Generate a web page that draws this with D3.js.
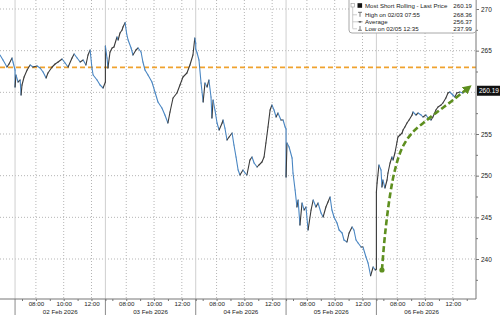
<!DOCTYPE html>
<html>
<head>
<meta charset="utf-8">
<script src="https://cdn.jsdelivr.net/npm/d3@7"></script>
<style>
  body { margin: 0; background: #fff; }
  svg text { font-family: "Liberation Sans", Arial, sans-serif; fill: #222; }
</style>
</head>
<body>
<div id="chart"></div>
<script>
// ---- data (session 06:30 - 13:00) ----
const dayLabels = ['02 Feb 2026', '03 Feb 2026', '04 Feb 2026', '05 Feb 2026', '06 Feb 2026'];
const hourTicks = ['08:00', '10:00', '12:00'];
const minorHourTicks = ['07:00', '09:00', '11:00', '13:00'];
const priceTicks = [240, 245, 250, 255, 265, 270];
const minorPriceTicks = [237.5, 242.5, 247.5, 252.5, 257.5, 262.5, 267.5];
const gridPrices = [240, 245, 250, 255, 260, 265, 270];
const refLevel = 263.0;
const lastPrice = 260.19;

const legendNames = ['Most Short Rolling - Last Price', 'High on 02/03 07:55', 'Average', 'Low on 02/05 12:35'];
const legendValues = ['260.19', '268.36', '256.37', '237.99'];

// [time, price] per session; day index -1 is the tail of 30 Jan
const jan30 = [["11:55",264.48],["12:08",263.88],["12:25",263.04],["12:34",263.40],["12:47",264.12],["12:51",263.64],["13:00",262.68]];
const feb02 = [["06:30",260.64],["06:34",262.08],["06:43",261.24],["06:52",261.48],["06:56",259.68],["07:00",260.88],["07:09",261.84],["07:22",262.68],["07:35",263.28],["07:48",263.04],["08:05",263.16],["08:18",262.92],["08:31",262.44],["08:44",261.72],["08:52",262.32],["09:10",263.04],["09:23",263.40],["09:36",263.64],["09:53",264.00],["10:06",263.52],["10:19",263.04],["10:36",264.12],["10:45",264.60],["10:58",264.12],["11:11",263.64],["11:24",263.88],["11:36",263.28],["11:45",264.48],["11:54",265.08],["12:02",262.92],["12:07",262.08],["12:24",261.48],["12:37",260.88],["12:50",260.52],["13:00",261.24]];
const feb03 = [["06:30",265.56],["06:37",264.12],["06:41",262.92],["06:50",264.84],["06:59",265.32],["07:07",265.44],["07:20",266.64],["07:25",266.28],["07:33",267.12],["07:42",267.48],["07:46",267.84],["07:55",268.36],["08:02",267.00],["08:08",266.28],["08:21",265.32],["08:29",264.48],["08:42",265.08],["08:51",265.32],["09:04",264.84],["09:12",263.64],["09:21",262.68],["09:34",262.08],["09:51",261.24],["10:04",260.04],["10:17",258.84],["10:34",258.12],["10:47",257.28],["11:00",256.32],["11:09",257.64],["11:22",259.32],["11:39",259.92],["11:52",260.88],["12:05",261.84],["12:22",262.32],["12:35",263.28],["12:48",264.48],["12:56",266.52],["13:00",265.90]];
const feb04 = [["06:30",265.20],["06:36",264.72],["06:44",263.88],["06:53",261.12],["07:02",258.84],["07:10",261.12],["07:19",260.64],["07:27",261.48],["07:36",259.44],["07:40",256.92],["07:45",259.08],["07:53",257.88],["08:02",256.32],["08:11",255.48],["08:24",256.32],["08:28",256.68],["08:36",255.72],["08:45",254.28],["08:54",254.64],["09:07",255.12],["09:15",253.68],["09:24",252.24],["09:33",250.68],["09:41",250.08],["09:54",250.68],["10:03",250.32],["10:11",250.08],["10:24",251.88],["10:33",252.24],["10:42",251.52],["10:55",251.04],["11:03",251.28],["11:16",251.64],["11:25",252.24],["11:33",253.92],["11:42",255.84],["11:51",257.88],["11:59",258.48],["12:08",257.88],["12:17",257.04],["12:25",257.52],["12:38",256.68],["12:47",256.68],["12:56",255.84],["13:00",255.60]];
const feb05 = [["06:30",249.84],["06:34",253.92],["06:43",253.44],["06:56",252.12],["07:00",250.32],["07:09",248.28],["07:17",246.24],["07:22",247.08],["07:30",244.08],["07:39",246.72],["07:48",245.88],["07:56",246.24],["08:05",243.48],["08:18",245.88],["08:27",247.08],["08:39",246.24],["08:48",246.72],["09:01",245.52],["09:10",245.04],["09:22",246.24],["09:31",246.84],["09:40",247.44],["09:48",245.88],["09:57",245.04],["10:10",244.32],["10:19",243.48],["10:32",243.12],["10:40",242.28],["10:53",242.04],["11:02",243.12],["11:15",243.84],["11:23",243.48],["11:32",242.28],["11:41",241.92],["11:54",241.44],["12:02",241.44],["12:15",240.24],["12:24",239.52],["12:35",237.99],["12:46",239.04],["12:55",238.68],["13:00",238.80]];
const feb06 = [["06:30",248.04],["06:33",249.12],["06:41",251.28],["06:50",250.68],["06:54",248.64],["06:58",249.48],["07:07",248.52],["07:16",249.48],["07:20",250.32],["07:29",251.52],["07:37",252.24],["07:42",251.88],["07:50",252.72],["07:59",254.04],["08:03",254.64],["08:12",254.88],["08:21",255.12],["08:25",255.48],["08:33",255.84],["08:42",256.32],["08:51",256.68],["09:04",257.28],["09:08",257.64],["09:21",257.28],["09:30",257.52],["09:43",257.28],["09:51",257.04],["10:04",257.28],["10:13",256.92],["10:26",256.68],["10:34",257.04],["10:47",257.88],["10:56",258.24],["11:09",258.48],["11:17",258.72],["11:30",259.32],["11:39",259.92],["11:47",260.04],["12:00",259.68],["12:09",259.44],["12:17",259.92],["12:30",260.04],["12:43",259.92],["12:52",260.28],["12:55",260.19]];
const sessions = [jan30, feb02, feb03, feb04, feb05, feb06];
const firstDayIndex = -1;

// green "recovery" annotation drawn on 06 Feb
const trendArrow = [["06:54",238.68],["07:07",242.88],["07:29",247.68],["07:50",250.68],["08:21",253.32],["09:04",255.12],["10:08",256.68],["11:04",257.88],["12:01",259.08],["13:06",260.52]];
const trendDay = 4;

class PriceChart {

  constructor(_config) {
    this.config = {
      parentElement: _config.parentElement,
      containerWidth: 500,
      containerHeight: 315,
      plotRight: 476,
      plotBottom: 299,
      sessionMinutes: 390,
      openMinute: 390
    }
    this.initVis();
  }

  // minutes on the compressed trading-time axis
  toT(day, hhmm) {
    const [h, m] = hhmm.split(':').map(Number);
    return day * this.config.sessionMinutes + (h * 60 + m - this.config.openMinute);
  }

  initVis() {
    let vis = this;
    const c = vis.config;

    vis.xScale = d3.scaleLinear().domain([-65, 1990]).range([0, c.plotRight]);
    vis.yScale = d3.scaleLinear().domain([240, 270]).range([259, 9]);

    vis.svg = d3.select(c.parentElement).append('svg')
      .attr('width', c.containerWidth)
      .attr('height', c.containerHeight);

    vis.gridG = vis.svg.append('g');
    vis.markG = vis.svg.append('g');
    vis.axisG = vis.svg.append('g');

    vis.renderVis();
  }

  renderVis() {
    let vis = this;
    const c = vis.config;
    const x = vis.xScale, y = vis.yScale;
    const dayIdx = dayLabels.map((d, i) => i);

    // horizontal dotted grid
    vis.gridG.selectAll('.hgrid').data(gridPrices).join('line')
      .attr('class', 'hgrid')
      .attr('x1', 0).attr('x2', c.plotRight)
      .attr('y1', d => y(d)).attr('y2', d => y(d))
      .attr('stroke', '#b5b5b5').attr('stroke-width', 1).attr('stroke-dasharray', '1,2');

    // vertical dotted grid at labelled hours
    const hourT = dayIdx.flatMap(d => hourTicks.map(h => vis.toT(d, h)));
    vis.gridG.selectAll('.vgrid').data(hourT).join('line')
      .attr('class', 'vgrid')
      .attr('x1', d => x(d)).attr('x2', d => x(d))
      .attr('y1', 0).attr('y2', c.plotBottom)
      .attr('stroke', '#b5b5b5').attr('stroke-width', 1).attr('stroke-dasharray', '1,2');

    // solid day separators
    const dayStart = dayIdx.map(d => vis.toT(d, '06:30'));
    vis.gridG.selectAll('.dsep').data(dayStart).join('line')
      .attr('class', 'dsep')
      .attr('x1', d => x(d)).attr('x2', d => x(d))
      .attr('y1', 0).attr('y2', c.plotBottom)
      .attr('stroke', '#cfcfcf').attr('stroke-width', 1);
    vis.gridG.selectAll('.dsep2').data(dayStart).join('line')
      .attr('class', 'dsep2')
      .attr('x1', d => x(d)).attr('x2', d => x(d))
      .attr('y1', c.plotBottom).attr('y2', c.containerHeight)
      .attr('stroke', '#8a8a8a').attr('stroke-width', 1);

    // reference level
    vis.gridG.append('line')
      .attr('x1', 0).attr('x2', c.plotRight)
      .attr('y1', y(refLevel)).attr('y2', y(refLevel))
      .attr('stroke', '#f0a22e').attr('stroke-width', 1.8).attr('stroke-dasharray', '5,3');

    // price line, coloured per segment by direction
    const pts = sessions.flatMap((s, i) => s.map(([t, p]) => ({t: vis.toT(firstDayIndex + i, t), p})));
    const segs = d3.pairs(pts);
    vis.markG.selectAll('.seg').data(segs).join('line')
      .attr('class', 'seg')
      .attr('x1', d => x(d[0].t)).attr('y1', d => y(d[0].p))
      .attr('x2', d => x(d[1].t)).attr('y2', d => y(d[1].p))
      .attr('stroke', d => d[1].p >= d[0].p ? '#3a3a3a' : '#4a86c2')
      .attr('stroke-width', 1.1)
      .attr('stroke-linecap', 'round');

    // green trend annotation
    const green = '#5e8f1f';
    vis.svg.append('defs').append('marker')
      .attr('id', 'arrow')
      .attr('viewBox', '0 0 10 10')
      .attr('refX', 5).attr('refY', 5)
      .attr('markerUnits', 'userSpaceOnUse')
      .attr('markerWidth', 9).attr('markerHeight', 9)
      .attr('orient', 'auto')
      .append('path').attr('d', 'M0,0 L10,5 L0,10 Z').attr('fill', green);

    const arrowPts = trendArrow.map(([t, p]) => [x(vis.toT(trendDay, t)), y(p)]);
    vis.markG.append('path')
      .attr('d', d3.line().curve(d3.curveCatmullRom)(arrowPts))
      .attr('fill', 'none')
      .attr('stroke', green).attr('stroke-width', 2.6)
      .attr('stroke-dasharray', '6,3')
      .attr('marker-end', 'url(#arrow)');
    vis.markG.append('circle')
      .attr('cx', arrowPts[0][0]).attr('cy', arrowPts[0][1])
      .attr('r', 2.6).attr('fill', green);

    // right axis
    const yAxis = d3.axisRight(y).tickValues(priceTicks).tickSize(3).tickPadding(2);
    const yG = vis.axisG.append('g')
      .attr('transform', `translate(${c.plotRight},0)`)
      .call(yAxis);
    yG.select('.domain').attr('d', `M0,0V${c.plotBottom}`).attr('stroke', '#777');
    yG.selectAll('.tick line').attr('stroke', '#777');
    yG.selectAll('.tick text').attr('font-size', 6.5).attr('fill', '#333');
    const yMinor = vis.axisG.append('g')
      .attr('transform', `translate(${c.plotRight},0)`)
      .call(d3.axisRight(y).tickValues(minorPriceTicks).tickSize(2).tickFormat(''));
    yMinor.select('.domain').remove();
    yMinor.selectAll('.tick line').attr('stroke', '#777');

    // bottom axis
    const xAxis = d3.axisBottom(x).tickValues(hourT).tickSize(2).tickPadding(1)
      .tickFormat((d, i) => hourTicks[i % hourTicks.length]);
    const xG = vis.axisG.append('g')
      .attr('transform', `translate(0,${c.plotBottom})`)
      .call(xAxis);
    xG.select('.domain').attr('d', `M0,0H${c.plotRight}`).attr('stroke', '#777');
    xG.selectAll('.tick line').attr('stroke', '#777');
    xG.selectAll('.tick text').attr('font-size', 6.2).attr('fill', '#333');
    const minorT = dayIdx.flatMap(d => minorHourTicks.map(h => vis.toT(d, h)));
    const xMinor = vis.axisG.append('g')
      .attr('transform', `translate(0,${c.plotBottom})`)
      .call(d3.axisBottom(x).tickValues(minorT).tickSize(2).tickFormat(''));
    xMinor.select('.domain').remove();
    xMinor.selectAll('.tick line').attr('stroke', '#777');

    vis.axisG.selectAll('.daylab').data(dayLabels).join('text')
      .attr('class', 'daylab')
      .attr('x', (d, i) => x(vis.toT(i, '06:30') + c.sessionMinutes / 2))
      .attr('y', 314)
      .attr('text-anchor', 'middle')
      .attr('font-size', 6.2)
      .attr('fill', '#333')
      .text(d => d);

    // last price tag
    vis.axisG.append('rect')
      .attr('x', c.plotRight + 1).attr('y', y(lastPrice) - 5)
      .attr('width', 24).attr('height', 10).attr('fill', '#111');
    vis.axisG.append('text')
      .attr('x', c.plotRight + 3).attr('y', y(lastPrice) + 2.4)
      .attr('font-size', 6.5).style('fill', '#fff')
      .text(lastPrice.toFixed(2));

    // legend
    const lg = vis.axisG.append('g');
    lg.append('rect')
      .attr('x', 349).attr('y', -3).attr('width', 127).attr('height', 36).attr('rx', 3)
      .attr('fill', '#fff').attr('stroke', '#a8a8a8');
    const rowY = [8.3, 16.8, 23.8, 30.8];
    lg.append('rect').attr('x', 351).attr('y', 3.5).attr('width', 3.5).attr('height', 3.5)
      .attr('fill', 'none').attr('stroke', '#999').attr('stroke-width', 0.6);
    lg.append('path')
      .attr('d', `M352.7,7V28.5M352.7,${rowY[1] - 2}H357M352.7,${rowY[2] - 2}H357M352.7,${rowY[3] - 2}H357`)
      .attr('stroke', '#aaa').attr('stroke-width', 0.6).attr('fill', 'none');
    lg.append('rect').attr('x', 357.5).attr('y', 3.2).attr('width', 4.6).attr('height', 4.6).attr('fill', '#111');
    lg.append('path').attr('d', `M358,12.3H362M360,12.3V16.8`).attr('stroke', '#444').attr('stroke-width', 0.7);
    lg.append('path').attr('d', `M357.5,21.8H362.5`).attr('stroke', '#444').attr('stroke-width', 0.7);
    lg.append('circle').attr('cx', 360).attr('cy', 21.8).attr('r', 0.9).attr('fill', '#444');
    lg.append('path').attr('d', `M360,26V30.3M358,30.3H362`).attr('stroke', '#444').attr('stroke-width', 0.7);
    lg.selectAll('.lname').data(legendNames).join('text')
      .attr('class', 'lname')
      .attr('x', 365).attr('y', (d, i) => rowY[i])
      .attr('font-size', 6.1)
      .text(d => d);
    lg.selectAll('.lval').data(legendValues).join('text')
      .attr('class', 'lval')
      .attr('x', 472).attr('y', (d, i) => rowY[i])
      .attr('text-anchor', 'end')
      .attr('font-size', 6.1)
      .text(d => d);
  }
}

new PriceChart({parentElement: '#chart'});
</script>
</body>
</html>
